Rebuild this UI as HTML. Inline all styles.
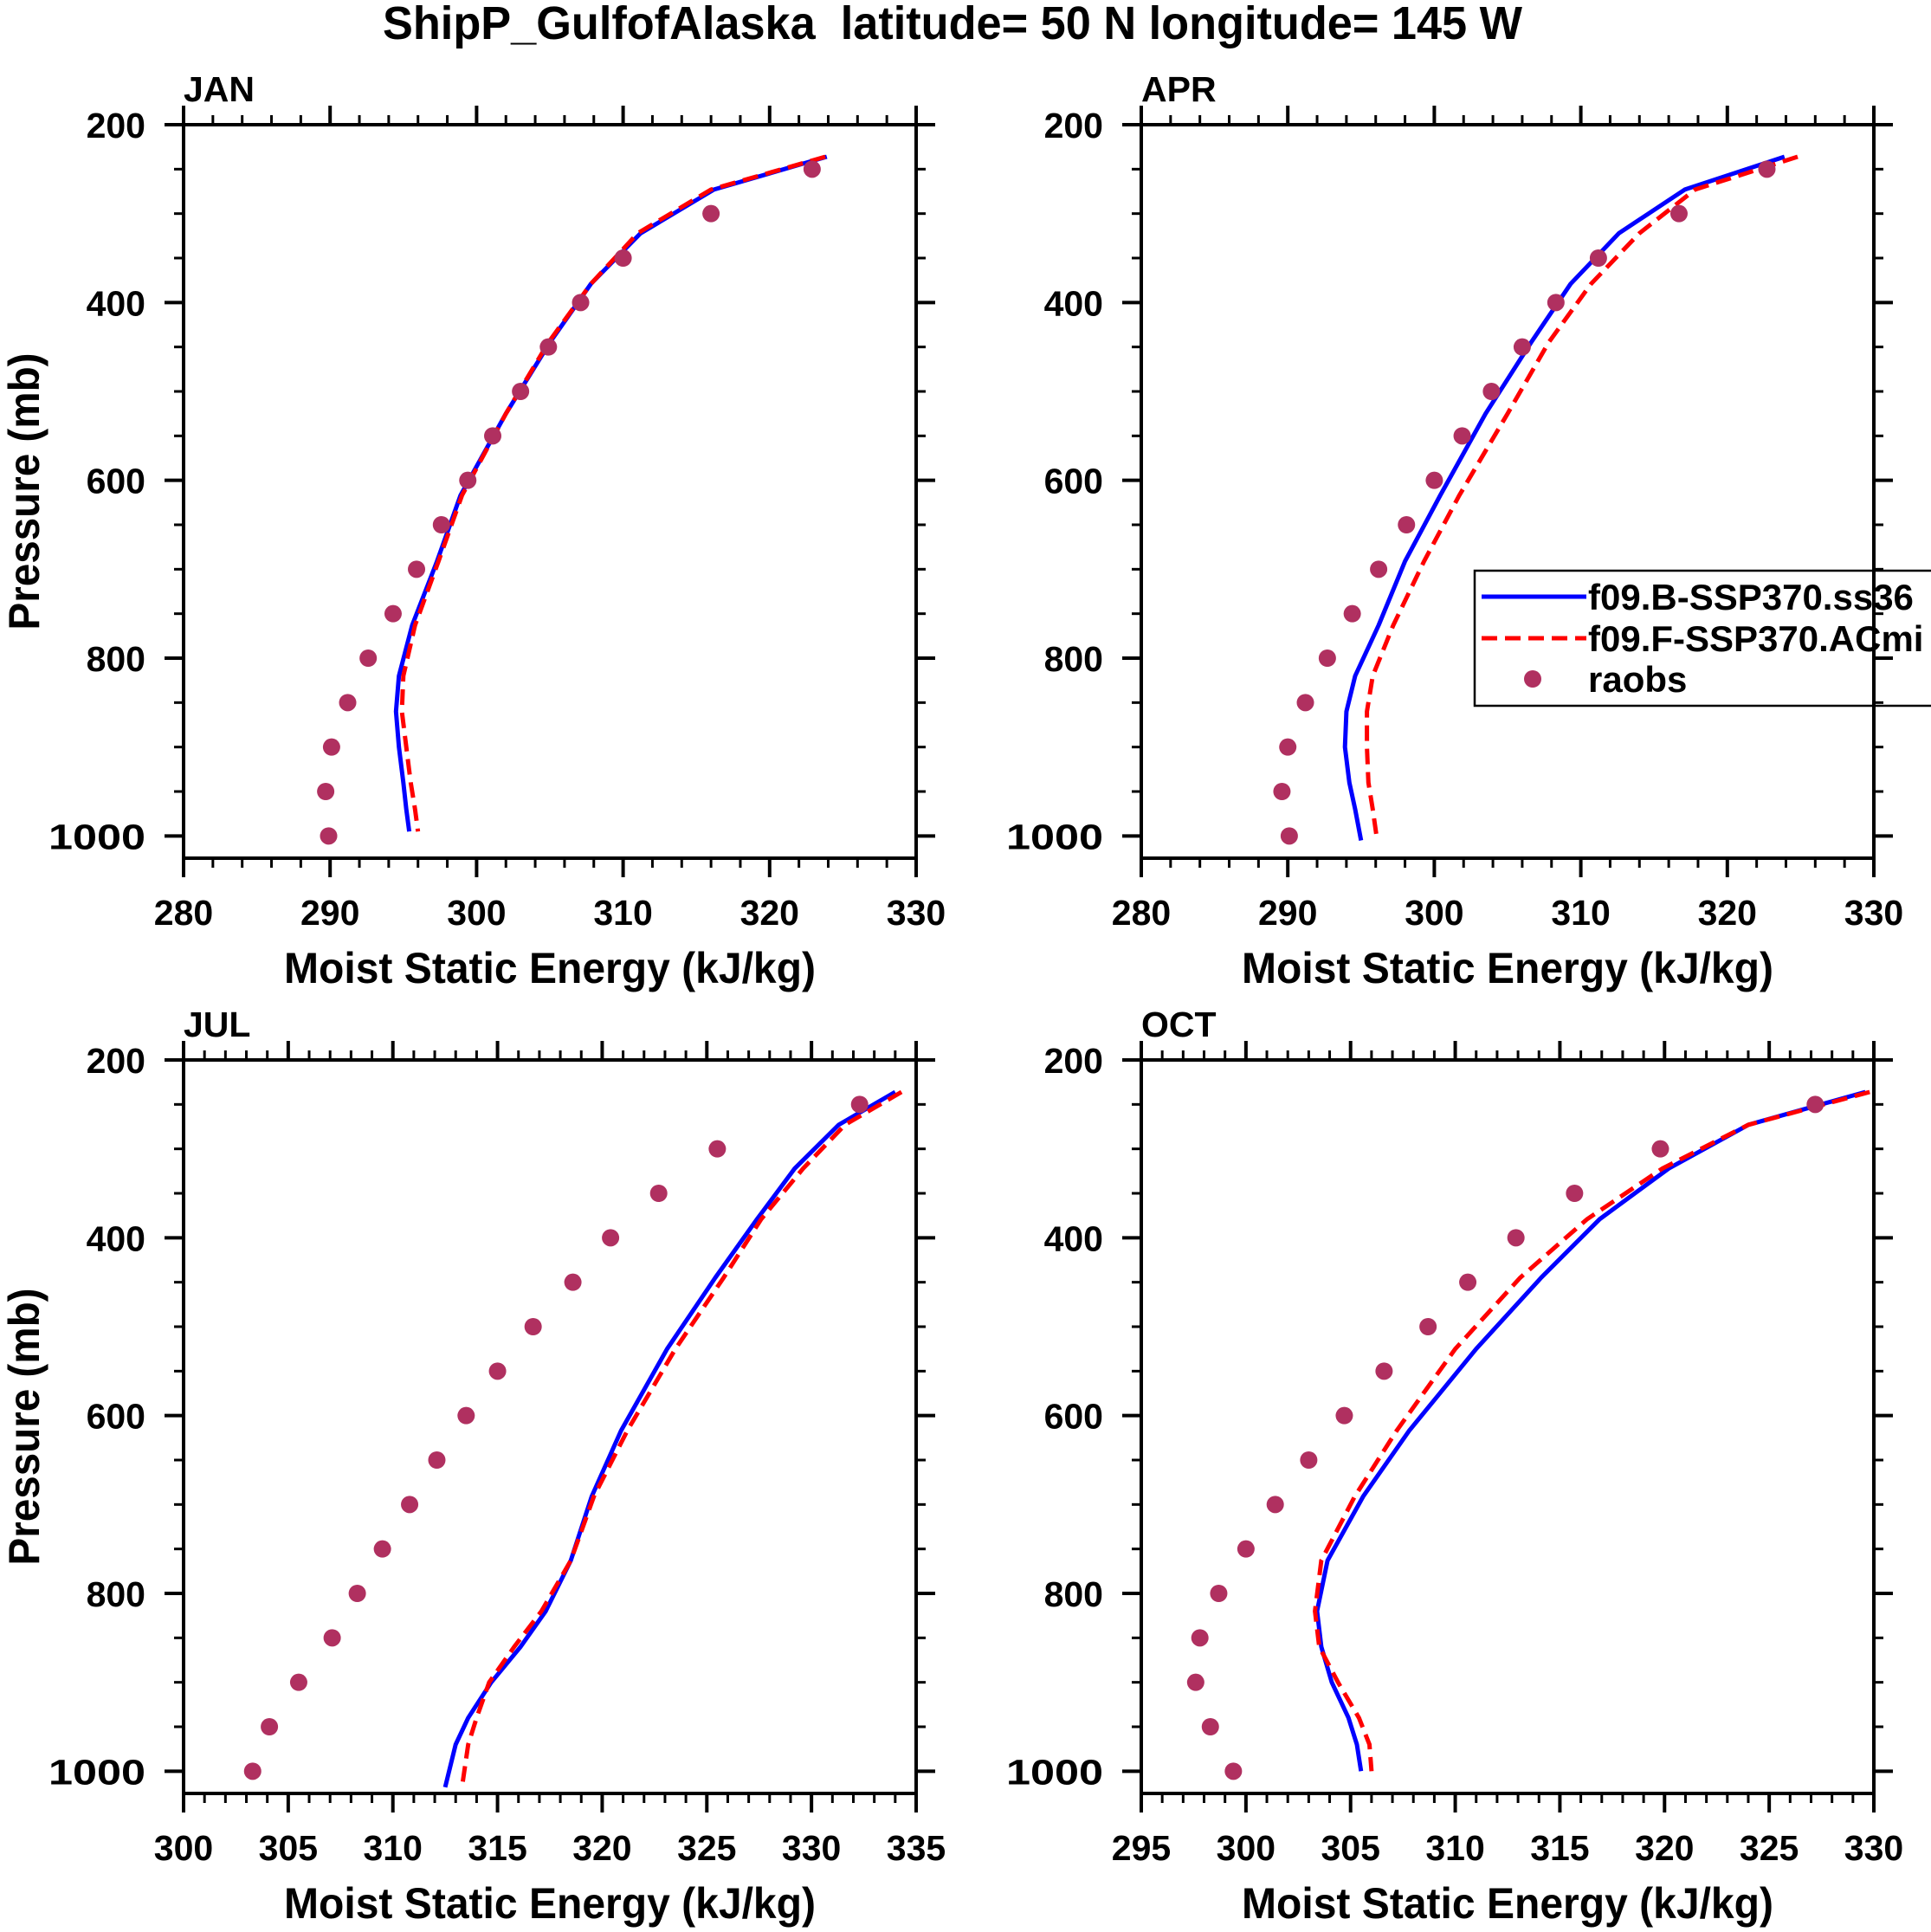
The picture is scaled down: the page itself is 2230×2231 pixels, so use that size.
<!DOCTYPE html>
<html>
<head>
<meta charset="utf-8">
<style>
html,body{margin:0;padding:0;background:#fff;}
svg{display:block;font-family:"Liberation Sans",Arial,sans-serif;font-weight:bold;}
</style>
</head>
<body>
<svg id="fig" width="2230" height="2231" viewBox="0 0 2230 2231" xmlns="http://www.w3.org/2000/svg">
<rect x="0" y="0" width="2230" height="2231" fill="#fff"/>
<text x="442" y="45" font-size="54" textLength="1316" lengthAdjust="spacingAndGlyphs" style="white-space:pre">ShipP_GulfofAlaska  latitude= 50 N longitude= 145 W</text>
</svg>
<script>
// ---- data ----
const panelNames = ["JAN","APR","JUL","OCT"];
const obsLevels = [250,300,350,400,450,500,550,600,650,700,750,800,850,900,950,1000];
const levJAN = [236,273,322,379,445,525,617,691,763,820,860,900,940,970,995];
const levAPR = [236,273,322,379,445,525,617,691,763,820,860,900,940,970,1005];
const levJUL = [236,273,322,379,445,525,617,691,763,820,860,900,940,970,1018];
const levOCT = [236,273,322,379,445,525,617,691,763,820,860,900,940,970,1000];
const blueJAN = [323.9,316.2,311.2,307.8,305.0,302.0,298.9,297.3,295.6,294.7,294.5,294.7,295.0,295.2,295.4];
const redJAN  = [323.8,316.0,311.0,307.8,304.9,302.0,299.0,297.4,295.8,295.0,294.9,295.2,295.5,295.8,296.0];
const obsJAN  = [322.9,316.0,310.0,307.1,304.9,303.0,301.1,299.4,297.6,295.9,294.3,292.6,291.2,290.1,289.7,289.9];
const blueAPR = [323.9,317.1,312.6,309.3,306.6,303.5,300.4,298.0,296.2,294.6,294.0,293.9,294.2,294.6,295.0];
const redAPR  = [324.8,317.8,314.0,310.7,307.8,305.0,301.7,299.3,297.2,295.8,295.4,295.4,295.5,295.8,296.1];
const obsAPR  = [322.7,316.7,311.2,308.3,306.0,303.9,301.9,300.0,298.1,296.2,294.4,292.7,291.2,290.0,289.6,290.1];
const blueJUL = [334.0,331.3,329.2,327.4,325.4,323.1,320.9,319.5,318.5,317.3,316.1,314.7,313.6,313.0,312.5];
const redJUL  = [334.3,331.6,329.6,327.6,325.8,323.5,321.2,319.6,318.5,317.1,315.8,314.6,314.0,313.6,313.3];
const obsJUL  = [332.3,325.5,322.7,320.4,318.6,316.7,315.0,313.5,312.1,310.8,309.5,308.3,307.1,305.5,304.1,303.3];
const blueOCT = [329.6,324.0,320.2,316.9,314.1,311.0,307.8,305.6,303.9,303.4,303.6,304.1,304.9,305.3,305.5];
const redOCT  = [329.8,324.0,319.9,316.3,313.1,310.0,307.2,305.2,303.6,303.3,303.5,304.4,305.4,305.9,306.0];
const obsOCT  = [327.2,319.8,315.7,312.9,310.6,308.7,306.6,304.7,303.0,301.4,300.0,298.7,297.8,297.6,298.3,299.4];
const xMinJAN = 280, xMaxJAN = 330, xStepJAN = 10, xMinorJAN = 2;
const xMinAPR = 280, xMaxAPR = 330, xStepAPR = 10, xMinorAPR = 2;
const xMinJUL = 300, xMaxJUL = 335, xStepJUL = 5, xMinorJUL = 1;
const xMinOCT = 295, xMaxOCT = 330, xStepOCT = 5, xMinorOCT = 1;
const yTickLabels = [200,400,600,800,1000];
const legendLabels = ["f09.B-SSP370.ss36","f09.F-SSP370.ACmi","raobs"];

const NS = "http://www.w3.org/2000/svg";
const svg = document.getElementById('fig');
function mk(tag, attrs, parent){
  const e = document.createElementNS(NS, tag);
  for (const k in attrs) e.setAttribute(k, attrs[k]);
  (parent||svg).appendChild(e);
  return e;
}
const W = 846, H = 847, PMIN = 200, PMAX = 1025;
const panels = [
  {name:"JAN", x0:212, y0:144, lev:levJAN, b:blueJAN, r:redJAN, o:obsJAN, xmin:xMinJAN, xmax:xMaxJAN, st:xStepJAN, mi:xMinorJAN, ytitle:true},
  {name:"APR", x0:1318, y0:144, lev:levAPR, b:blueAPR, r:redAPR, o:obsAPR, xmin:xMinAPR, xmax:xMaxAPR, st:xStepAPR, mi:xMinorAPR, ytitle:false},
  {name:"JUL", x0:212, y0:1224, lev:levJUL, b:blueJUL, r:redJUL, o:obsJUL, xmin:xMinJUL, xmax:xMaxJUL, st:xStepJUL, mi:xMinorJUL, ytitle:true},
  {name:"OCT", x0:1318, y0:1224, lev:levOCT, b:blueOCT, r:redOCT, o:obsOCT, xmin:xMinOCT, xmax:xMaxOCT, st:xStepOCT, mi:xMinorOCT, ytitle:false}
];

panels.forEach(P => {
  const g = mk('g', {});
  
  
  const xs = v => P.x0 + (v - P.xmin) / (P.xmax - P.xmin) * W;
  const ys = p => P.y0 + (p - PMIN) / (PMAX - PMIN) * H;
  const x1 = P.x0 + W, y1 = P.y0 + H;

  const pathOf = vals => vals.map((v,i) => (i?'L':'M') + xs(v).toFixed(1) + ',' + ys(P.lev[i]).toFixed(1)).join(' ');
  const bl = mk('path', {d:pathOf(P.b), fill:'none', stroke:'#0000ff', 'stroke-width':5, 'stroke-linejoin':'round'}, g);
  
  
  const rl = mk('path', {d:pathOf(P.r), fill:'none', stroke:'#ff0000', 'stroke-width':5, 'stroke-dasharray':'18,9'}, g);
  
  
  P.o.forEach((v,i) => {
    const c = mk('circle', {cx:xs(v), cy:ys(obsLevels[i]), r:10, fill:'#b03060'}, g);
    
    
  });

  const fr = mk('rect', {x:P.x0, y:P.y0, width:W, height:H, fill:'none', stroke:'#000', 'stroke-width':4}, g);
  
  

  const nMinor = Math.round((P.xmax - P.xmin) / P.mi);
  for (let k = 0; k <= nMinor; k++) {
    const v = P.xmin + k * P.mi;
    const major = Math.abs(((v - P.xmin) / P.st) - Math.round((v - P.xmin) / P.st)) < 1e-6;
    const L = major ? 22 : 11, sw = major ? 4 : 3;
    const xx = xs(v);
    mk('line', {x1:xx, y1:P.y0, x2:xx, y2:P.y0 - L, stroke:'#000', 'stroke-width':sw}, g);
    mk('line', {x1:xx, y1:y1, x2:xx, y2:y1 + L, stroke:'#000', 'stroke-width':sw}, g);
    if (major) {
      const t = mk('text', {x:xx, y:y1 + 77, 'font-size':41, 'text-anchor':'middle'}, g);
      
      
      t.textContent = String(v);
    }
  }
  for (let p = 200; p <= 1000; p += 50) {
    const major = p % 200 === 0;
    const L = major ? 22 : 11, sw = major ? 4 : 3;
    const yy = ys(p);
    mk('line', {x1:P.x0, y1:yy, x2:P.x0 - L, y2:yy, stroke:'#000', 'stroke-width':sw}, g);
    mk('line', {x1:x1, y1:yy, x2:x1 + L, y2:yy, stroke:'#000', 'stroke-width':sw}, g);
  }
  yTickLabels.forEach(p => {
    const attrs = {x:P.x0 - 44, y:ys(p) + 15, 'font-size':41, 'text-anchor':'end'};
    if (String(p).length === 4) { attrs.textLength = 112; attrs.lengthAdjust = 'spacingAndGlyphs'; }
    const t = mk('text', attrs, g);
    
    
    t.textContent = String(p);
  });
  const pl = mk('text', {x:P.x0, y:P.y0 - 27, 'font-size':41}, g);
  
  
  pl.textContent = P.name;
  const xt = mk('text', {x:P.x0 + W/2, y:y1 + 144, 'font-size':50, 'text-anchor':'middle', textLength:614, lengthAdjust:'spacingAndGlyphs'}, g);
  
  
  xt.textContent = 'Moist Static Energy (kJ/kg)';
  if (P.ytitle) {
    const cy = P.y0 + H/2;
    const yt = mk('text', {x:0, y:0, 'font-size':50, 'text-anchor':'middle', textLength:320, lengthAdjust:'spacingAndGlyphs', transform:'translate(45,' + cy + ') rotate(-90)'}, g);
    
    
    yt.textContent = 'Pressure (mb)';
  }
});

const lg = mk('g', {});


mk('rect', {x:1703, y:659, width:560, height:156, fill:'none', stroke:'#000', 'stroke-width':2.5}, lg);
const ly = [689, 737, 784];
const e1 = mk('line', {x1:1711, y1:ly[0], x2:1832, y2:ly[0], stroke:'#0000ff', 'stroke-width':5}, lg);


const e2 = mk('line', {x1:1711, y1:ly[1], x2:1832, y2:ly[1], stroke:'#ff0000', 'stroke-width':5, 'stroke-dasharray':'18,9'}, lg);


const e3 = mk('circle', {cx:1770, cy:ly[2], r:10, fill:'#b03060'}, lg);


legendLabels.forEach((s,i) => {
  const t = mk('text', {x:1834, y:ly[i] + 15, 'font-size':42}, lg);
  
  
  t.textContent = s;
});
mk('line', {x1:2164, y1:144, x2:2164, y2:991, stroke:'#000', 'stroke-width':4});
</script>
</body>
</html>
